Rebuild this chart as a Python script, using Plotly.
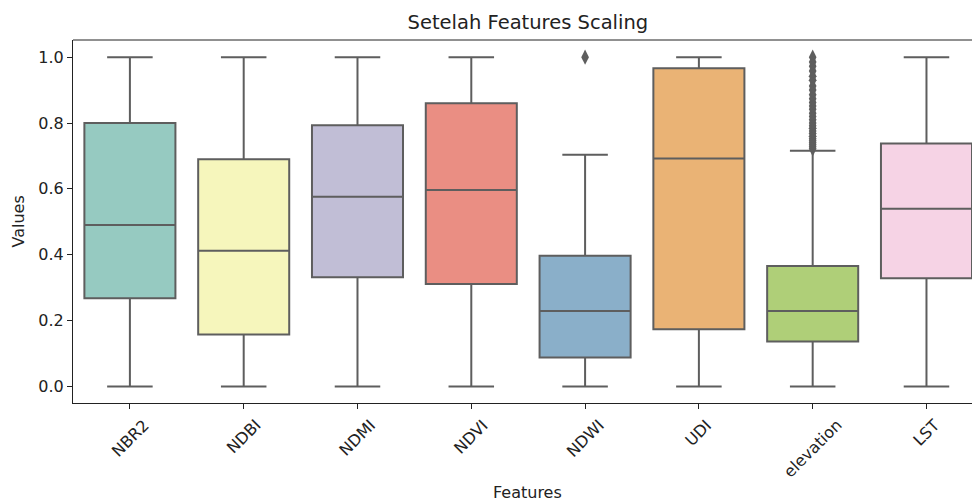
import colorsys
import plotly.graph_objects as go

# Summary statistics per feature (after min-max scaling)
features = ["NBR2", "NDBI", "NDMI", "NDVI", "NDWI", "UDI", "elevation", "LST"]
q1 = [0.268, 0.158, 0.332, 0.311, 0.088, 0.174, 0.137, 0.329]
median = [0.490, 0.412, 0.576, 0.597, 0.229, 0.692, 0.229, 0.540]
q3 = [0.800, 0.690, 0.793, 0.860, 0.397, 0.966, 0.366, 0.738]
lower_whisker = [0.0, 0.0, 0.0, 0.0, 0.0, 0.0, 0.0, 0.0]
upper_whisker = [1.0, 1.0, 1.0, 1.0, 0.704, 1.0, 0.716, 1.0]
y_ticks = [0.0, 0.2, 0.4, 0.6, 0.8, 1.0]

# Points beyond the whiskers
ndwi_outliers = [1.0]
elevation_outliers = [0.722, 0.728, 0.734, 0.740, 0.746, 0.752, 0.760, 0.768,
                      0.776, 0.784, 0.792, 0.800, 0.810, 0.820, 0.830, 0.842,
                      0.852, 0.862, 0.874, 0.886, 0.900, 0.912, 0.930, 0.942,
                      0.958, 0.972, 0.985, 1.0]

# Set3 palette, desaturated the way seaborn does for box fills
set3 = ["#8dd3c7", "#ffffb3", "#bebada", "#fb8072",
        "#80b1d3", "#fdb462", "#b3de69", "#fccde5"]


def desaturate(hex_color, prop=0.75):
    r, g, b = (int(hex_color[i:i + 2], 16) / 255 for i in (1, 3, 5))
    h, l, s = colorsys.rgb_to_hls(r, g, b)
    r, g, b = colorsys.hls_to_rgb(h, l, s * prop)
    return "#{:02x}{:02x}{:02x}".format(round(r * 255), round(g * 255), round(b * 255))


line_grey = "#5e5e5e"
text_color = "#222222"
font_family = "DejaVu Sans"
tick_size = 16

fig = go.Figure()
for i, name in enumerate(features):
    fig.add_trace(go.Box(
        x=[name], q1=[q1[i]], median=[median[i]], q3=[q3[i]],
        lowerfence=[lower_whisker[i]], upperfence=[upper_whisker[i]],
        boxpoints=False, width=0.8, whiskerwidth=0.5,
        fillcolor=desaturate(set3[i]),
        line=dict(color=line_grey, width=2),
        showlegend=False, hoverinfo="skip",
    ))

for name, pts in (("NDWI", ndwi_outliers), ("elevation", elevation_outliers)):
    fig.add_trace(go.Scatter(
        x=[name] * len(pts), y=pts, mode="markers",
        marker=dict(symbol="diamond-tall", size=11, color=line_grey,
                    line=dict(width=0)),
        showlegend=False, hoverinfo="skip",
    ))

# Rotated category labels, centred under each tick
annotations = [
    dict(text=name, x=name, xref="x", y=0, yref="paper",
         xanchor="center", yanchor="top", yshift=-10, textangle=-45,
         showarrow=False, font=dict(size=tick_size, color=text_color))
    for name in features
]
annotations.append(dict(text="Features", x=0.506, xref="paper", y=0, yref="paper",
                        xanchor="center", yanchor="middle", yshift=-89,
                        showarrow=False, font=dict(size=tick_size, color=text_color)))
annotations.append(dict(text="Values", x=0, xref="paper", y=0.5, yref="paper",
                        xanchor="center", yanchor="middle", xshift=-55, textangle=-90,
                        showarrow=False, font=dict(size=tick_size, color=text_color)))

fig.update_layout(
    width=972, height=501,
    margin=dict(l=73, r=0, t=40, b=98),
    paper_bgcolor="white", plot_bgcolor="white",
    boxmode="overlay",
    font=dict(family=font_family, size=tick_size, color=text_color),
    title=dict(text="Setelah Features Scaling", x=0.506, xref="paper",
               xanchor="center", y=0.956, yref="container", yanchor="middle",
               font=dict(size=19.5, color=text_color)),
    xaxis=dict(
        type="category", categoryorder="array", categoryarray=features,
        range=[-0.5, 7.4], showgrid=False, zeroline=False,
        showline=True, linecolor=text_color, linewidth=1,
        ticks="outside", ticklen=5, tickcolor=text_color,
        showticklabels=False,
    ),
    yaxis=dict(
        range=[-0.05, 1.052], tickvals=y_ticks,
        tickformat=".1f", showgrid=False, zeroline=False,
        showline=True, linecolor=text_color, linewidth=1,
        ticks="outside", ticklen=5, tickcolor=text_color,
        tickfont=dict(size=tick_size),
    ),
    annotations=annotations,
    shapes=[dict(type="line", xref="paper", yref="paper", x0=0, x1=1,
                 y0=1, y1=1, line=dict(color=text_color, width=1))],
)

fig.write_html("out.html")
